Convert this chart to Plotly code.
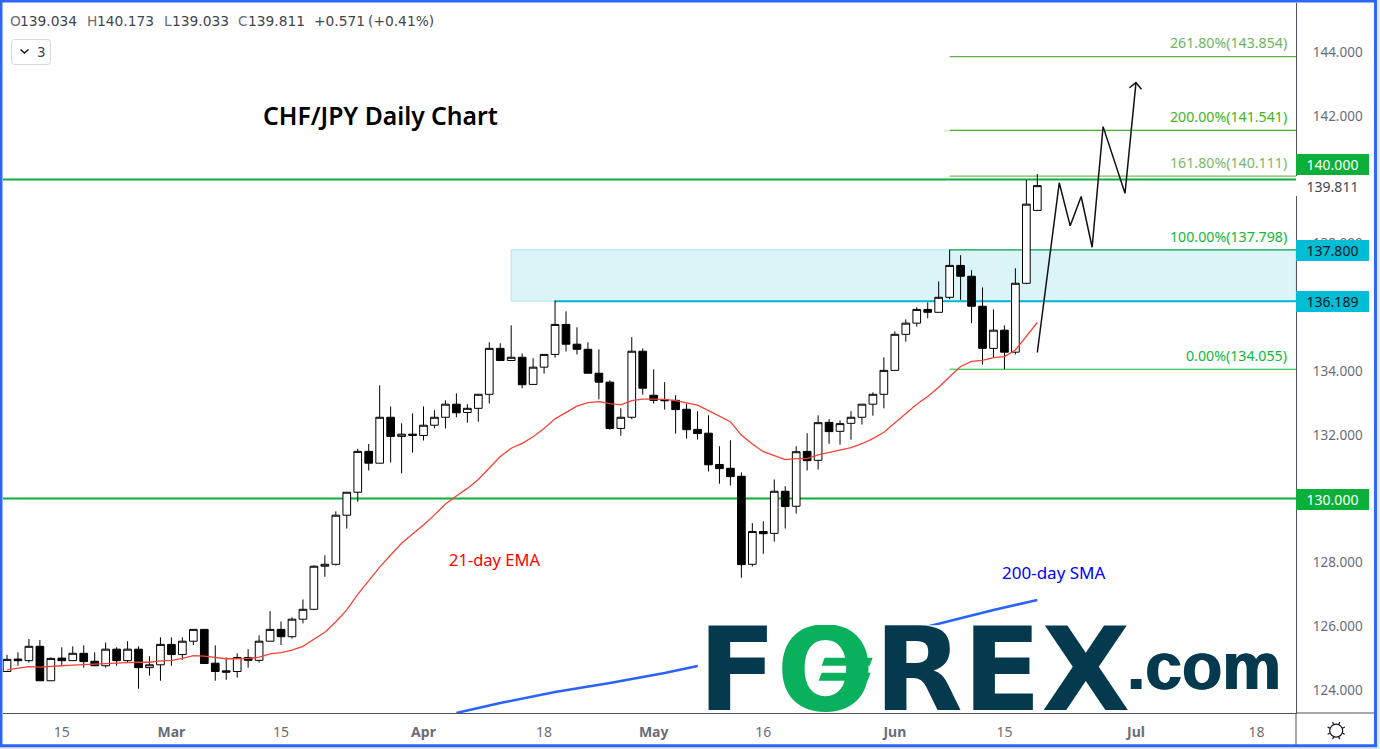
import math
import plotly.graph_objects as go

# ---- data ----
opens = [124.58,124.97,124.92,125.37,124.29,125.00,124.92,125.15,124.90,124.76,
         125.28,124.92,125.28,124.70,124.79,125.43,125.11,125.53,125.90,124.84,
         124.60,124.58,125.02,124.93,125.53,125.90,125.67,126.22,126.53,127.88,
         127.94,129.48,130.20,131.48,131.11,132.55,131.95,132.02,131.98,132.30,
         132.55,132.96,132.70,132.83,133.27,134.71,134.33,134.43,133.58,134.12,
         134.52,135.46,134.84,134.68,133.93,133.65,132.20,132.55,134.62,133.24,
         133.10,133.08,132.80,132.17,132.05,131.07,130.95,130.70,127.94,128.97,
         128.91,130.23,129.76,131.48,131.20,132.39,132.11,132.36,132.55,132.96,
         133.27,134.02,135.15,135.50,135.93,135.84,136.31,137.31,136.97,136.03,
         134.71,135.28,134.59,136.75,139.034]
highs = [125.10,125.18,125.60,125.57,125.02,125.34,125.37,125.40,125.18,125.49,
         125.34,125.53,125.37,125.06,125.65,125.65,125.65,125.90,125.90,125.40,
         125.02,125.15,125.28,125.71,126.47,126.15,126.28,126.84,127.91,128.22,
         129.60,130.20,131.56,131.71,133.55,132.89,132.36,132.67,132.89,132.77,
         133.08,133.30,132.96,133.27,134.90,134.87,135.43,134.55,134.40,134.52,
         136.21,135.87,135.37,134.90,134.68,133.71,132.83,135.06,134.71,134.05,
         133.65,133.24,132.98,132.74,132.61,131.64,131.83,130.82,129.23,129.29,
         130.60,130.39,131.64,132.05,132.61,132.49,132.45,132.74,132.96,133.33,
         134.43,135.24,135.62,136.00,136.15,136.81,137.80,137.63,137.16,136.62,
         135.93,135.43,137.22,139.99,140.173]
lows = [124.58,124.76,124.86,124.29,124.29,124.76,124.92,124.70,124.76,124.70,
        124.76,124.86,124.04,124.45,124.29,124.76,124.95,125.41,124.83,124.29,
        124.32,124.39,124.70,124.86,125.53,125.41,125.61,126.09,126.50,127.55,
        127.90,129.06,129.90,130.88,131.11,131.13,130.79,131.44,131.82,132.20,
        132.20,132.55,132.38,132.41,132.98,134.33,134.33,133.46,133.58,133.92,
        134.42,134.61,134.52,133.93,133.11,132.16,131.97,132.49,133.26,132.98,
        132.79,132.04,131.88,131.85,130.85,130.47,130.41,127.52,127.87,128.27,
        128.65,129.06,129.53,130.88,130.91,131.72,131.69,131.85,132.32,132.60,
        132.83,134.02,134.92,135.39,135.65,135.84,136.25,136.23,135.50,134.20,
        134.43,134.055,134.52,136.72,139.033]
closes = [124.96,124.92,125.37,124.29,124.99,124.92,125.15,124.89,124.76,125.28,
          124.92,125.28,124.70,124.79,125.43,125.11,125.53,125.90,124.83,124.58,
          124.56,125.02,124.93,125.53,125.90,125.67,126.22,126.53,127.88,127.94,
          129.48,130.20,131.48,131.11,132.55,131.95,132.02,131.98,132.30,132.55,
          132.96,132.69,132.83,133.27,134.71,134.33,134.43,133.57,134.12,134.52,
          135.46,134.84,134.68,133.93,133.65,132.20,132.55,134.62,133.46,133.08,
          133.07,132.79,132.16,132.04,131.06,130.94,130.69,127.93,128.97,128.90,
          130.23,129.75,131.47,131.19,132.38,132.10,132.35,132.55,132.96,133.27,
          134.02,135.15,135.50,135.93,135.84,136.31,137.31,136.97,136.03,134.71,
          135.28,134.59,136.75,139.23,139.811]
ema21 = [124.63,124.68,124.73,124.72,124.73,124.76,124.78,124.80,124.82,124.84,
         124.85,124.86,124.87,124.87,124.91,124.93,124.99,125.08,125.06,125.01,
         124.98,124.98,124.99,125.03,125.13,125.17,125.25,125.37,125.59,125.81,
         126.14,126.51,127.00,127.42,127.85,128.23,128.60,128.89,129.17,129.49,
         129.83,130.08,130.32,130.60,130.97,131.32,131.58,131.73,131.94,132.20,
         132.50,132.70,132.90,133.01,133.04,132.98,132.94,133.07,133.12,133.12,
         133.11,133.07,133.01,132.93,132.76,132.59,132.41,131.99,131.71,131.47,
         131.35,131.22,131.25,131.25,131.37,131.44,131.51,131.60,131.72,131.88,
         132.08,132.38,132.69,132.96,133.20,133.49,133.82,134.14,134.30,134.33,
         134.42,134.45,134.66,135.08,135.52]
sma_bars = [41,45,50,55,60,63,70,80,84,90,94]
sma200 = [123.28,123.59,123.94,124.22,124.53,124.75,125.16,125.72,125.99,126.51,126.82]
path_bars = [94,96,97,98,99,100,102,103]
path_vals = [134.58,139.90,138.55,139.47,137.88,141.66,139.57,143.04]
head_bars = [102.4,103,103.5]
head_vals = [142.88,143.04,142.83]
fib_names = ["261.80%","200.00%","161.80%","100.00%","0.00%"]
fib_vals = [143.854,141.541,140.111,137.798,134.055]
fib_text_colors = ["#6FB35E","#3DB518","#7CB66B","#0DB83A","#0DB83A"]
fib_line_colors = ["#5FAE4A","#3DB518","#7CB66B","#0AA84A","#0DB83A"]
price_ticks = [124,126,128,132,134,136,138,142,144]
date_bars = [5,15,25,38,49,59,69,81,91,103,114]
date_labels = ["15","<b>Mar</b>","15","<b>Apr</b>","18","<b>May</b>","16","<b>Jun</b>","15","<b>Jul</b>","18"]
header_parts = ["O","139.034","H","140.173","L","139.033","C","139.811","+0.571","(+0.41%)"]
bar_first_fib = 86
bar_zone_start = 46
support_high = 137.8
support_low = 136.189

# ---- geometry ----
W, H = 1380, 749
L, R, T, B = 3, 1296.5, 3, 713.3
FONT = "Noto Sans"
GREY = "#6A6D78"
GREEN = "#0AB039"
CYAN = "#00BCD4"
def px(x): return (x - L) / (R - L)
def py(y): return (B - y) / (B - T)

bars = list(range(len(opens)))
fig = go.Figure()
fig.add_trace(go.Candlestick(
    x=bars, open=opens, high=highs, low=lows, close=closes,
    increasing=dict(line=dict(color="#000000", width=1), fillcolor="#FFFFFF"),
    decreasing=dict(line=dict(color="#000000", width=1), fillcolor="#000000"),
    whiskerwidth=0, hoverinfo="skip"))
fig.add_trace(go.Scatter(x=bars, y=ema21, mode="lines",
                         line=dict(color="#F44336", width=1.3), hoverinfo="skip"))
fig.add_trace(go.Scatter(x=sma_bars, y=sma200, mode="lines",
                         line=dict(color="#2962FF", width=2.5), hoverinfo="skip"))
fig.add_trace(go.Scatter(x=path_bars, y=path_vals, mode="lines",
                         line=dict(color="#111111", width=1.5), hoverinfo="skip"))
fig.add_trace(go.Scatter(x=head_bars, y=head_vals, mode="lines",
                         line=dict(color="#111111", width=1.5), hoverinfo="skip"))

shapes = []
def paper_rect(x0, y0, x1, y1, fill, layer="above", line=None, lw=0):
    shapes.append(dict(type="rect", xref="paper", yref="paper", x0=px(x0), x1=px(x1),
                       y0=py(y0), y1=py(y1), fillcolor=fill, layer=layer,
                       line=dict(color=line or fill, width=lw)))
def paper_line(x0, y0, x1, y1, color, lw=1):
    shapes.append(dict(type="line", xref="paper", yref="paper", x0=px(x0), x1=px(x1),
                       y0=py(y0), y1=py(y1), layer="above", line=dict(color=color, width=lw)))

# zone
shapes.append(dict(type="rect", xref="x", yref="y", x0=bar_zone_start, x1=117.6,
                   y0=support_low, y1=support_high, fillcolor="#DAF4F8", layer="below",
                   line=dict(color="#B5E0EE", width=1)))
# horizontal levels
for v in (140.0, 130.0):
    shapes.append(dict(type="line", xref="paper", x0=0, x1=1, yref="y", y0=v, y1=v,
                       layer="below", line=dict(color=GREEN, width=2)))
shapes.append(dict(type="line", xref="x", x0=50, x1=117.6, yref="y", y0=support_low, y1=support_low,
                   layer="below", line=dict(color="#00B4D0", width=2)))
for v, c in zip(fib_vals, fib_line_colors):
    shapes.append(dict(type="line", xref="x", x0=bar_first_fib, x1=117.6, yref="y", y0=v, y1=v,
                       layer="below", line=dict(color=c, width=1.2)))

# logo backing and bars of the green O
paper_rect(698, 625.5, 1285, 712, "#FFFFFF")
for (xa, xb, y0, y1) in ((822, 873, 658, 666), (819, 871, 673, 681)):
    shapes.append(dict(type="path", xref="paper", yref="paper", layer="above", fillcolor="#0AB15C",
                       line=dict(width=0),
                       path=f"M {px(xa+3)} {py(y0)} L {px(xb)} {py(y0)} L {px(xb-3)} {py(y1)} L {px(xa)} {py(y1)} Z"))

# frame pieces
paper_line(1296.5, 713.3, 1296.5, 746, "#50535E")
paper_line(1296.5, 713.3, 1376, 713.3, "#50535E")
paper_rect(1377, 0, 1380, 749, "#DDE3F0")
paper_rect(0, 747, 1380, 749, "#DDE3F0")
shapes.append(dict(type="rect", xref="paper", yref="paper", x0=px(1), x1=px(1376), y0=py(1), y1=py(746),
                   layer="above", line=dict(color="#2E66F6", width=3), fillcolor="rgba(0,0,0,0)"))
# toggle button
x0b, x1b, y0b, y1b = 11.5, 50.5, 39.5, 64.5
r = 3
shapes.append(dict(type="path", xref="paper", yref="paper", layer="above", fillcolor="#FFFFFF",
                   line=dict(color="#D5D8E0", width=1),
                   path=(f"M {px(x0b+r)} {py(y0b)} L {px(x1b-r)} {py(y0b)} Q {px(x1b)} {py(y0b)} {px(x1b)} {py(y0b+r)} "
                         f"L {px(x1b)} {py(y1b-r)} Q {px(x1b)} {py(y1b)} {px(x1b-r)} {py(y1b)} "
                         f"L {px(x0b+r)} {py(y1b)} Q {px(x0b)} {py(y1b)} {px(x0b)} {py(y1b-r)} "
                         f"L {px(x0b)} {py(y0b+r)} Q {px(x0b)} {py(y0b)} {px(x0b+r)} {py(y0b)} Z")))
shapes.append(dict(type="path", xref="paper", yref="paper", layer="above", line=dict(color="#131722", width=1.5),
                   path=f"M {px(20.5)} {py(49.5)} L {px(24.5)} {py(53)} L {px(28.5)} {py(49.5)}"))
# settings (sun) icon
cx, cy, rad = 1336.7, 731, 6.5
shapes.append(dict(type="circle", xref="paper", yref="paper", layer="above", x0=px(cx-rad), x1=px(cx+rad),
                   y0=py(cy-rad), y1=py(cy+rad), line=dict(color="#131722", width=1.2), fillcolor="rgba(0,0,0,0)"))
for k in range(8):
    a = k * math.pi / 4 + math.pi / 8
    paper_line(cx + rad*math.cos(a), cy + rad*math.sin(a),
               cx + (rad+2.8)*math.cos(a), cy + (rad+2.8)*math.sin(a), "#131722", 1.2)

ann = []
def text(x, y, s, size=14, color="#000000", anchor="left", family=FONT, weight=None, bg=None, w=None, h=None, yanchor="middle", shadow=None):
    f = dict(family=family, size=size, color=color)
    if weight: f["weight"] = weight
    if shadow: f["shadow"] = shadow
    a = dict(xref="paper", yref="paper", x=px(x), y=py(y), text=s, showarrow=False, xanchor=anchor,
             yanchor=yanchor, font=f, borderpad=0, borderwidth=0, align="center")
    if bg: a["bgcolor"] = bg
    if w: a["width"] = w
    if h: a["height"] = h
    ann.append(a)

# header
xs = [10, 20, 87, 97, 164, 172, 238, 248, 314, 368]
cols = [GREY, "#434651"] * 4 + ["#434651", "#434651"]
for x, s, c in zip(xs, header_parts, cols):
    text(x, 21.5, s, 13.8, c, family="DejaVu Sans")
text(37, 52, "3", 13.5, "#434651", family="DejaVu Sans")
text(263, 116, "CHF/JPY Daily Chart", 24.7, "#000000", weight=600)
text(449, 560, "21-day EMA", 16.5, "#FF0000")
text(1002, 573, "200-day SMA", 17, "#0000FF")

# fib labels
fib_y = [43, 117, 163, 237, 356]
for n, v, c, y in zip(fib_names, fib_vals, fib_text_colors, fib_y):
    text(1287, y, f"{n}({v:.3f})", 14.2, c, anchor="right")

# price labels on the axis
text(1296, 186, f"{closes[-1]:.3f}", 14, "#434651", bg="#FFFFFF", w=73, h=20)
text(1296, 164.5, "140.000", 14, "#FFFFFF", bg=GREEN, w=73, h=21)
text(1296, 250.5, f"{support_high:.3f}", 14, "#131722", bg=CYAN, w=73, h=21)
text(1296, 301.5, f"{support_low:.3f}", 14, "#131722", bg=CYAN, w=73, h=21)
text(1296, 500, "130.000", 14, "#FFFFFF", bg=GREEN, w=73, h=21)

# logo
text(914, 670, "F<span style='color:#0AB15C'>O</span>REX", 115, "#053A4E", anchor="center",
     family="DejaVu Sans", weight=700, w=428, h=90)
text(1204, 666, ".com", 66, "#053A4E", anchor="center", family="Liberation Sans", weight=700,
     h=50, w=156, shadow="0.8px 0 0 #053A4E, -0.8px 0 0 #053A4E")

fig.update_layout(
    width=W, height=H, autosize=False,
    margin=dict(l=L, r=W - R, t=T, b=H - B, pad=0),
    paper_bgcolor="#FFFFFF", plot_bgcolor="#FFFFFF",
    showlegend=False, hovermode=False, boxgap=0.3, boxgroupgap=0,
    shapes=shapes, annotations=ann,
    font=dict(family=FONT, size=14, color=GREY),
    xaxis=dict(range=[-0.365, 117.6], tickvals=date_bars, ticktext=date_labels, rangeslider=dict(visible=False),
               showgrid=False, zeroline=False, showline=True, linecolor="#50535E", linewidth=1,
               ticks="", tickfont=dict(family=FONT, size=14, color="#6A6D78"), tickangle=0, ticklabelstandoff=6),
    yaxis=dict(range=[123.279, 145.536], side="right", tickvals=price_ticks,
               ticktext=[f"{t:.3f}" for t in price_ticks],
               showgrid=False, zeroline=False, showline=True, linecolor="#50535E", linewidth=1,
               ticks="", tickfont=dict(family=FONT, size=13.5, color="#6A6D78"), ticklabelstandoff=13),
)
fig.write_html("out.html", config=dict(displayModeBar=False),
               post_script="document.body.style.margin='0';document.body.style.overflow='hidden';")
